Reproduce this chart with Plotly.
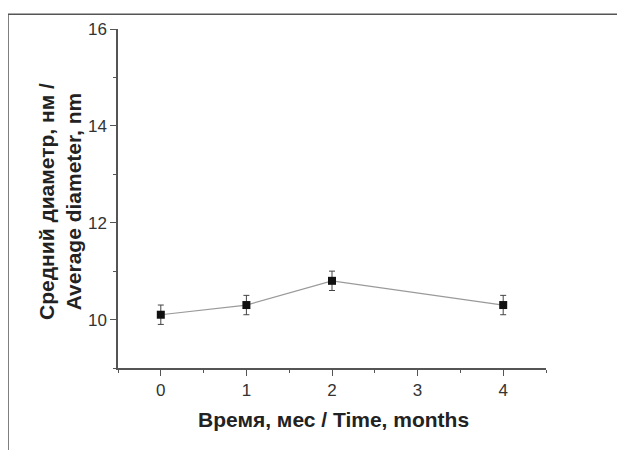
import plotly.graph_objects as go

months = [0, 1, 2, 4]
diameter = [10.1, 10.3, 10.8, 10.3]
err = [0.2, 0.2, 0.2, 0.2]
x_ticks = [0, 1, 2, 3, 4]
y_ticks = [10, 12, 14, 16]

OFF = 8  # default page body margin
W, H = 625, 450
L, R, T, B = 118 - OFF, 625 + OFF - 546, 25 - OFF, 450 + OFF - 368
pw, ph = W - L - R, H - T - B

def px_x(p):
    return (p - OFF - L) / pw

def px_y(p):
    return (H - B - (p - OFF)) / ph

FONT = "Liberation Sans, Arial, sans-serif"

fig = go.Figure()
fig.add_trace(go.Scatter(
    x=months, y=diameter, mode="lines+markers",
    line=dict(color="#9a9a9a", width=1.2),
    marker=dict(symbol="square", size=8, color="#111111"),
    error_y=dict(type="data", array=err, visible=True, color="#444444",
                 thickness=1, width=3),
    showlegend=False,
))

axis_common = dict(
    showline=True, linecolor="#555555", linewidth=1.5,
    ticks="outside", ticklen=6, tickwidth=1.2, tickcolor="#555555",
    showgrid=False, zeroline=False,
    tickfont=dict(family=FONT, size=17, color="#333333"),
)

fig.update_layout(
    width=W, height=H,
    margin=dict(l=L, r=R, t=T, b=B),
    paper_bgcolor="white", plot_bgcolor="white",
    xaxis=dict(range=[-0.5, 4.5], tickvals=x_ticks,
               minor=dict(tickvals=[-0.5, 0.5, 1.5, 2.5, 3.5, 4.5], ticks="outside",
                          ticklen=3, tickcolor="#555555", tickwidth=1.2),
               **axis_common),
    yaxis=dict(range=[9, 16], tickvals=y_ticks,
               minor=dict(tickvals=[9, 11, 13, 15], ticks="outside",
                          ticklen=3, tickcolor="#555555", tickwidth=1.2),
               **axis_common),
    annotations=[
        dict(text="Время, мес / Time, months", xref="paper", yref="paper",
             x=px_x(333), y=px_y(420), xanchor="center", yanchor="middle",
             showarrow=False,
             font=dict(family=FONT, size=21, color="#222222", weight="bold")),
        dict(text="Средний диаметр, нм /<br>Average diameter, nm",
             xref="paper", yref="paper",
             x=px_x(60), y=px_y(200), xanchor="center", yanchor="middle",
             textangle=-90, showarrow=False,
             font=dict(family=FONT, size=21, color="#222222", weight="bold")),
    ],
    shapes=[
        dict(type="line", xref="paper", yref="paper",
             x0=px_x(8), x1=px_x(W + 20), y0=px_y(10), y1=px_y(10),
             line=dict(color="#555555", width=1.5)),
        dict(type="line", xref="paper", yref="paper",
             x0=px_x(8), x1=px_x(8), y0=px_y(10), y1=px_y(H + 20),
             line=dict(color="#555555", width=1.5)),
    ],
)

fig.write_html("out.html")
